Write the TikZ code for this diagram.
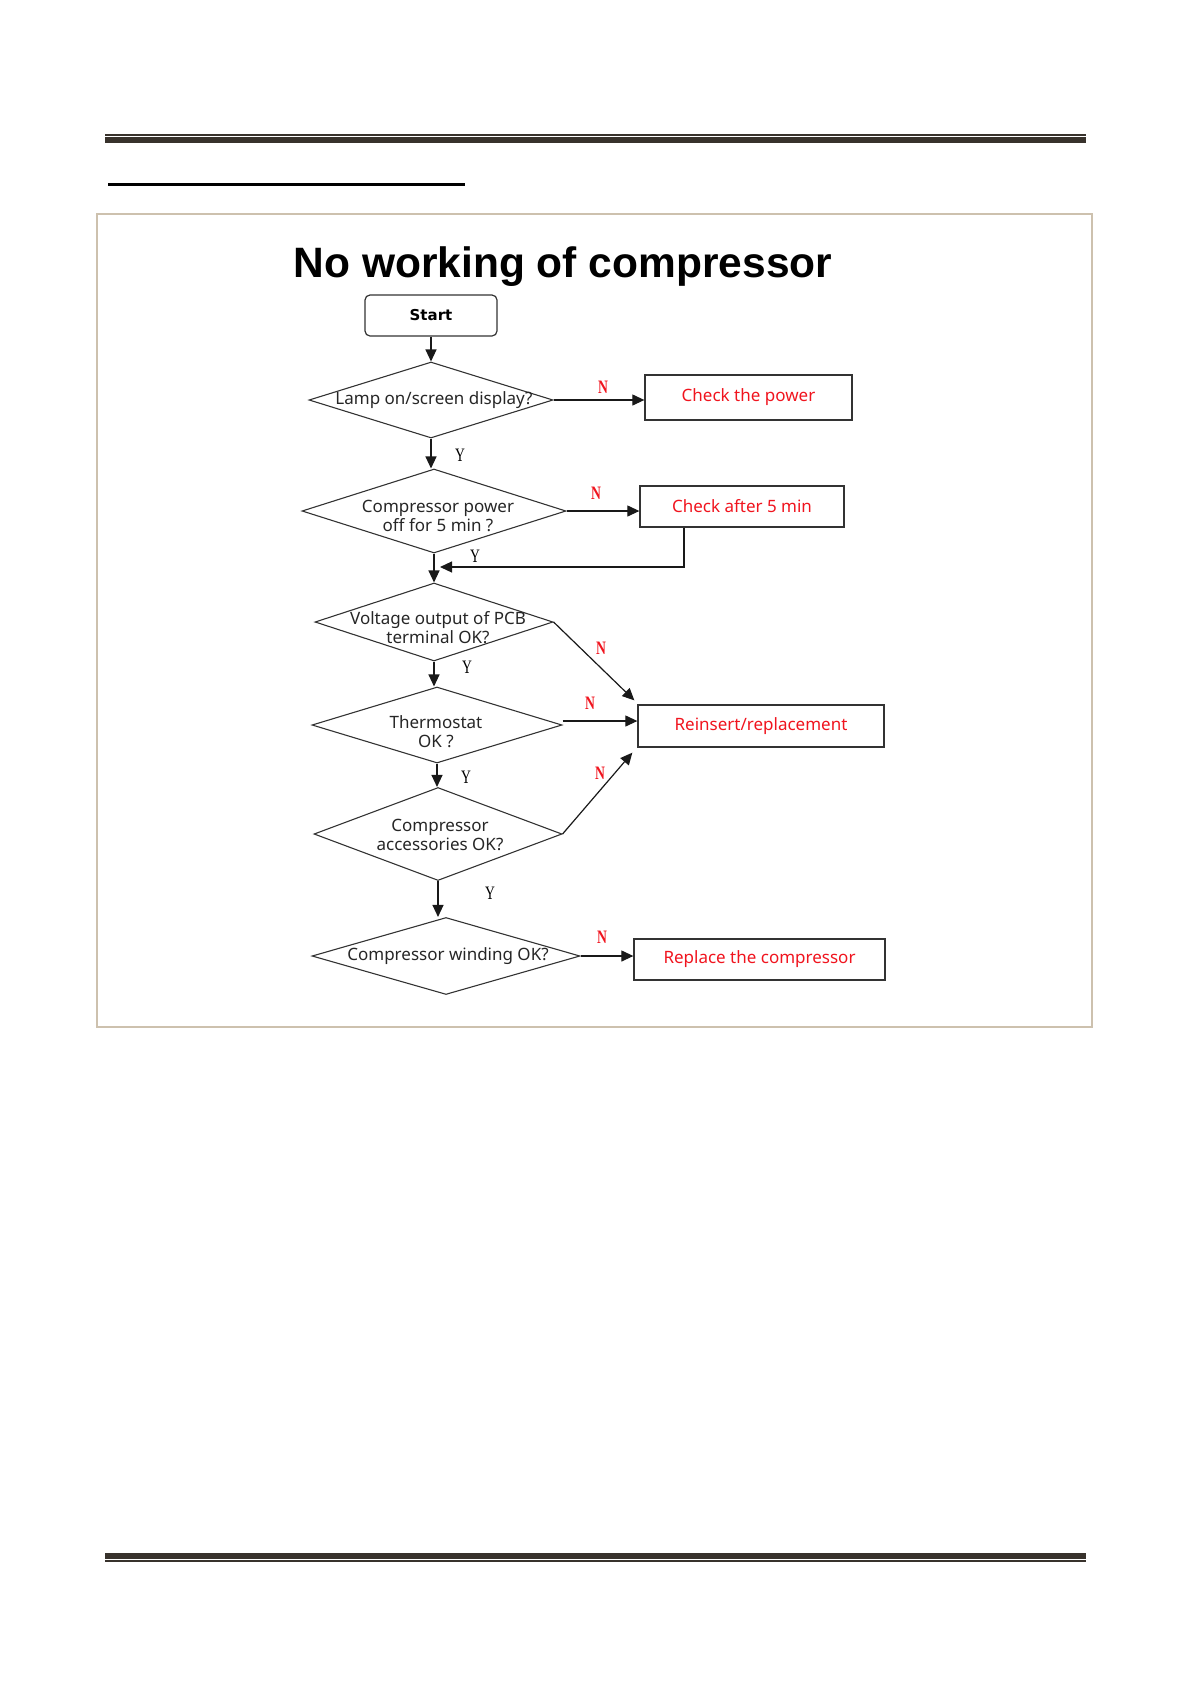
\documentclass[tikz,border=0pt]{standalone}
\usepackage{fontspec}
\setmainfont{Noto Sans}
\newfontfamily\titlefont{Liberation Sans}
\newfontfamily\ynfont{Liberation Serif}
\newfontfamily\startfont{DejaVu Sans}
\usetikzlibrary{shapes.geometric,arrows.meta}
\definecolor{rulecol}{HTML}{38322C}
\definecolor{framecol}{HTML}{CDC1AE}
\definecolor{linecol}{HTML}{333333}
\definecolor{redtxt}{HTML}{F0141E}
\newcommand\ynlab[1]{\scalebox{0.72}[1]{#1}}
\begin{document}
\begin{tikzpicture}[x=1pt,y=-1pt,
  startbox/.style={draw=linecol, rounded corners=5pt, minimum width=132pt, minimum height=41pt, inner sep=0pt, line width=1.2pt, font=\startfont\bfseries\fontsize{15}{18}\selectfont},
  dia/.style={draw=linecol, diamond, inner sep=0pt, line width=1.1pt},
  dtext/.style={font=\fontsize{17}{19}\selectfont, align=center, inner sep=0pt, text=black!85},
  rbox/.style={draw=linecol, line width=1.3pt, inner sep=0pt, text=redtxt, font=\fontsize{17}{19}\selectfont},
  arr/.style={-{Triangle[length=12pt,width=11pt]}, line width=1.2pt, draw=black!90},
  nlab/.style={text=redtxt, font=\ynfont\bfseries\fontsize{19}{19}\selectfont, inner sep=0pt},
  ylab/.style={text=black, font=\ynfont\fontsize{19}{19}\selectfont, inner sep=0pt}]
\useasboundingbox (0,0) rectangle (1191,1684);
% page rules
\fill[rulecol] (105,134) rectangle (1086,136);
\fill[rulecol] (105,137.3) rectangle (1086,143.3);
\fill[rulecol] (105,1553) rectangle (1086,1559);
\fill[rulecol] (105,1560) rectangle (1086,1562);
\fill[black] (108,183) rectangle (465,186);
% frame
\draw[framecol, line width=2.5pt] (97,214) rectangle (1092,1027);
% title
\node[anchor=base, inner sep=0pt, font=\titlefont\bfseries\fontsize{42.5}{46}\selectfont] (title) at (563,277) {No working of compressor};
% start
\node[startbox] (start) at (431,315.5) {Start};
% diamonds
\node[dia, minimum width=244pt, minimum height=76pt] (d1) at (431,400) {};
\node[dia, minimum width=264pt, minimum height=84pt] (d2) at (434,511) {};
\node[dia, minimum width=238pt, minimum height=78pt] (d3) at (434,622) {};
\node[dia, minimum width=250pt, minimum height=76pt] (d4) at (437,725) {};
\node[dia, minimum width=248pt, minimum height=93pt] (d5) at (438,834) {};
\node[dia, minimum width=268pt, minimum height=77pt] (d6) at (446,956) {};
% diamond texts
\node[dtext] (t1) at (434,400) {Lamp on/screen display?};
\node[dtext] (t2) at (438,515.5) {Compressor power\\off for 5 min ?};
\node[dtext] (t3) at (438,627.5) {Voltage output of PCB\\terminal OK?};
\node[dtext] (t4) at (436,732) {Thermostat\\OK ?};
\node[dtext] (t5) at (440,834.5) {Compressor\\accessories OK?};
\node[dtext] (t6) at (448,956.5) {Compressor winding OK?};
% boxes
\node[rbox, minimum width=207pt, minimum height=45pt] (p) at (748.5,397.5) {Check the power};
\node[rbox, minimum width=204pt, minimum height=41pt] (c5) at (742,506.5) {Check after 5 min};
\node[rbox, minimum width=246pt, minimum height=42pt] (r) at (761,726) {Reinsert/replacement};
\node[rbox, minimum width=251pt, minimum height=41pt] (rc) at (759.5,959.5) {Replace the compressor};
% vertical flow
\draw[arr] (start.south) -- (start.south |- d1.north);
\draw[arr] (d1.south) -- (d1.south |- d2.north);
\draw[arr] (d2.south) -- (d2.south |- d3.north);
\draw[arr] (d3.south) -- (d3.south |- d4.north);
\draw[arr] (d4.south) -- (d4.south |- d5.north);
\draw[arr] (d5.south) -- (d5.south |- d6.north);
% loop back
\coordinate (merge) at (440,567);
\draw[arr] ([xshift=-58pt]c5.south) |- (merge);
% N branches
\draw[arr] (d1.east) -- (d1.east -| p.west);
\draw[arr] (d2.east) -- (d2.east -| c5.west);
\draw[arr] (d3.east) -- ([shift={(-3pt,4pt)}]r.north west);
\draw[arr] ([yshift=4pt]d4.east) -- ([yshift=4pt]d4.east -| r.west);
\draw[arr] (d5.east) -- ([shift={(-5pt,-5pt)}]r.south west);
\draw[arr] (d6.east) -- (d6.east -| rc.west);
% labels
\node[nlab] (n1) at (603,387) {\ynlab{N}};
\node[nlab] (n2) at (596,493) {\ynlab{N}};
\node[nlab] (n3) at (601,648) {\ynlab{N}};
\node[nlab] (n4) at (590,703) {\ynlab{N}};
\node[nlab] (n5) at (600,773) {\ynlab{N}};
\node[nlab] (n6) at (602,937) {\ynlab{N}};
\node[ylab] (y1) at (460,455) {\ynlab{Y}};
\node[ylab] (y2) at (475,556) {\ynlab{Y}};
\node[ylab] (y3) at (467,667) {\ynlab{Y}};
\node[ylab] (y4) at (466,777) {\ynlab{Y}};
\node[ylab] (y5) at (490,893) {\ynlab{Y}};
\end{tikzpicture}
\end{document}
